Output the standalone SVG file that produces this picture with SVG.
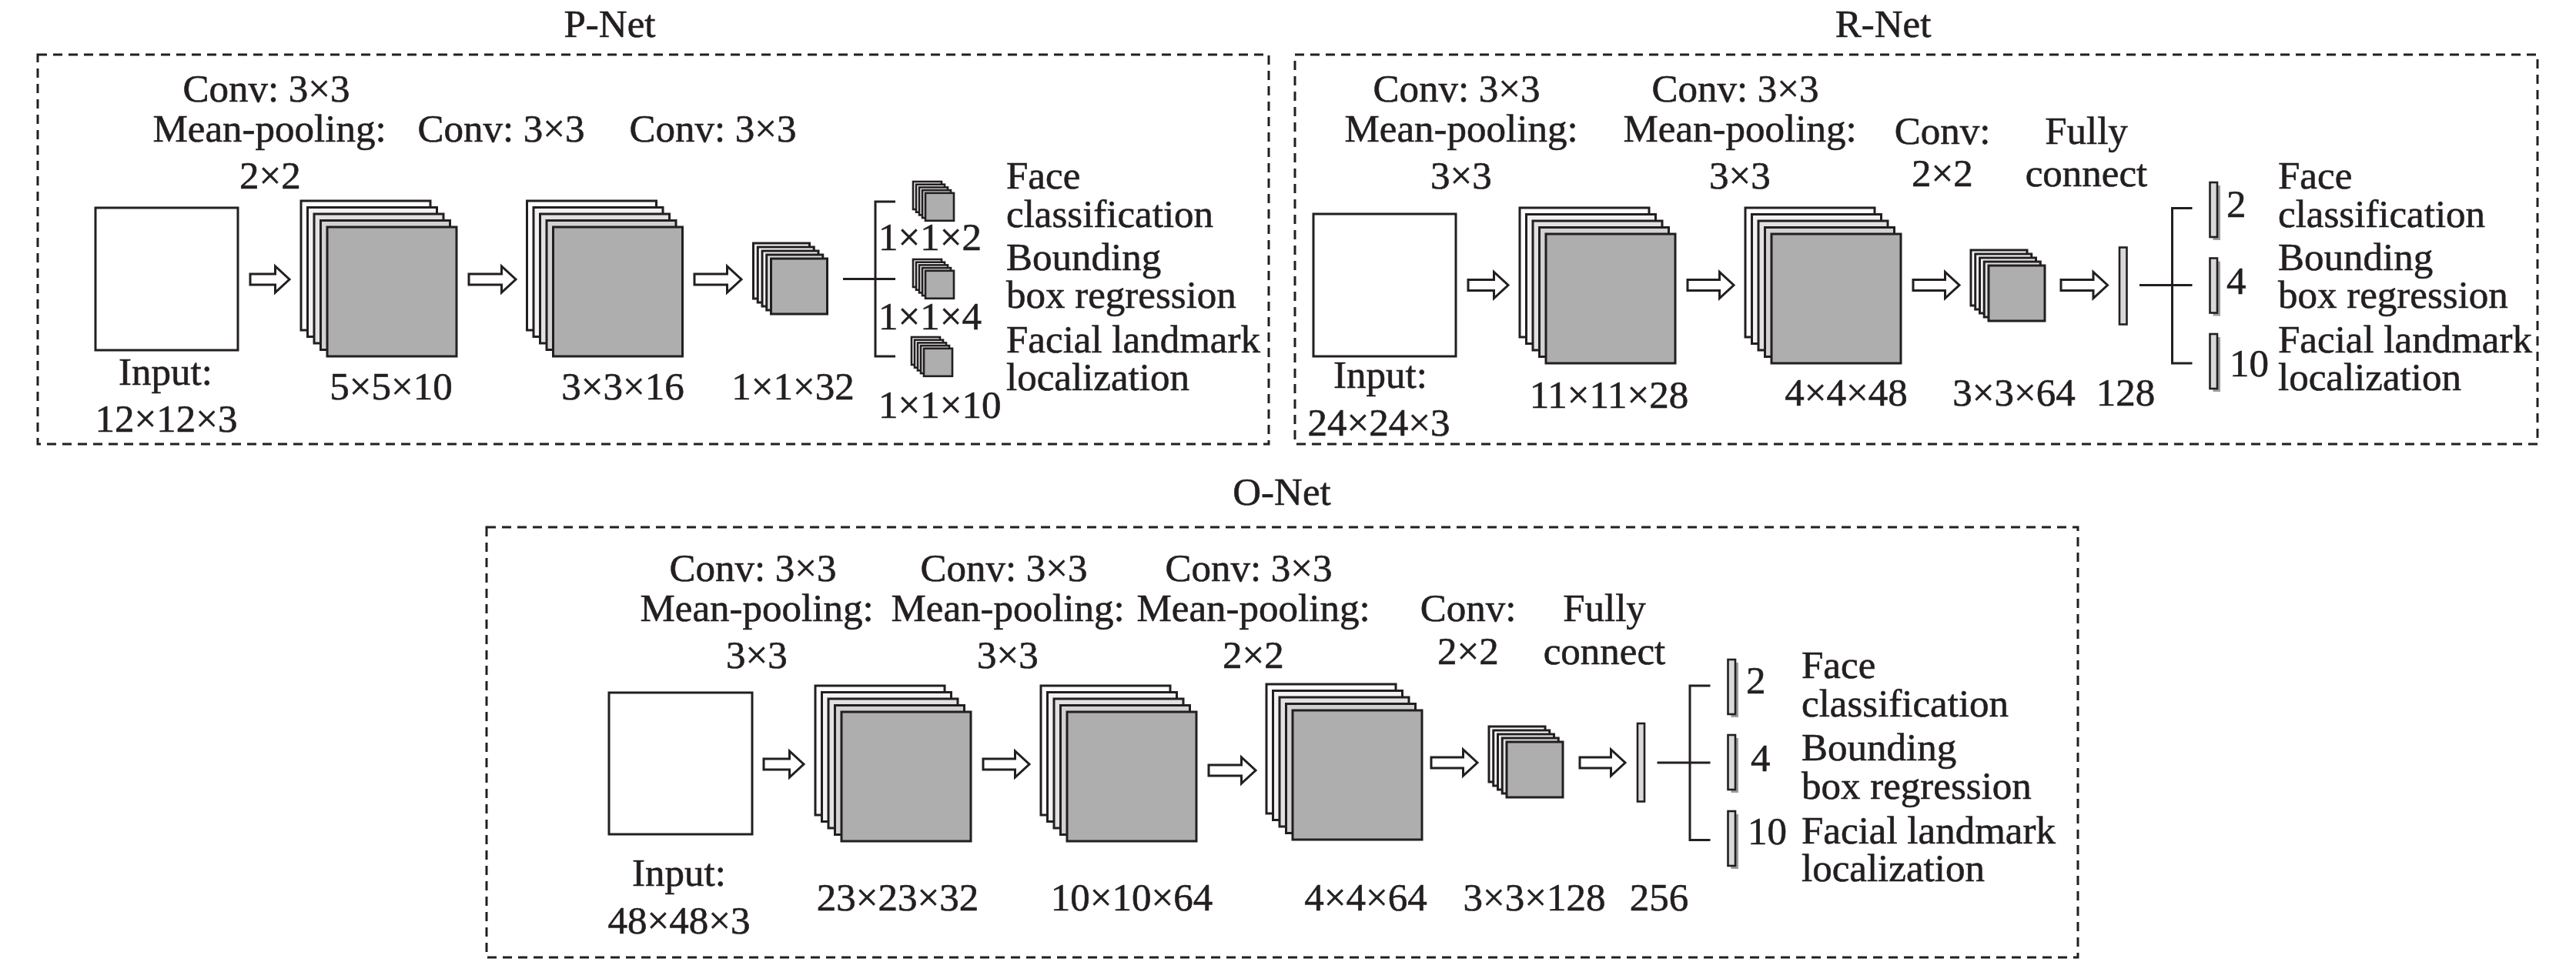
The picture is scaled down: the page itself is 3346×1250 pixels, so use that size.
<svg xmlns="http://www.w3.org/2000/svg" xmlns:xlink="http://www.w3.org/1999/xlink" width="3346" height="1250" viewBox="0 0 3346 1250">
<style>
.t{font-family:"Liberation Serif","Times New Roman",serif;font-size:51px;fill:#231f20;stroke:#231f20;stroke-width:0.6}
.m{text-anchor:middle}
.frame{fill:none;stroke:#231f20;stroke-width:3;stroke-dasharray:12 8}
.box{fill:#fff;stroke:#231f20;stroke-width:3}
.l1{fill:#ffffff;stroke:#231f20;stroke-width:3}
.l2{fill:#f2f2f2;stroke:#231f20;stroke-width:3}
.l3{fill:#e2e2e2;stroke:#231f20;stroke-width:3}
.l4{fill:#d2d2d2;stroke:#231f20;stroke-width:3}
.l5{fill:#aeaeae;stroke:#231f20;stroke-width:3}
.tn{stroke-width:2.6}
.arr{fill:#fff;stroke:#231f20;stroke-width:3;stroke-linejoin:miter}
.ln{fill:none;stroke:#231f20;stroke-width:3}
.fc{fill:#d9d9d9;stroke:#231f20;stroke-width:2.6}
.sh{fill:#9d9d9d}
</style>
<defs>
<g id="bigStack">
<rect class="l1" x="0" y="0" width="168" height="168"/>
<rect class="l2" x="8.5" y="8.5" width="168" height="168"/>
<rect class="l3" x="17" y="17" width="168" height="168"/>
<rect class="l4" x="25.5" y="25.5" width="168" height="168"/>
<rect class="l5" x="34" y="34" width="168" height="168"/>
</g>
<g id="smallStack">
<rect class="l1" x="0" y="0" width="73" height="72"/>
<rect class="l1" x="5.75" y="5" width="73" height="72"/>
<rect class="l2" x="11.5" y="10" width="73" height="72"/>
<rect class="l3" x="17.25" y="15" width="73" height="72"/>
<rect class="l5" x="23" y="20" width="73" height="72"/>
</g>
<g id="tinyStack">
<rect class="l1 tn" x="0" y="0" width="37" height="36"/>
<rect class="l1 tn" x="4" y="3.7" width="37" height="36"/>
<rect class="l2 tn" x="8" y="7.4" width="37" height="36"/>
<rect class="l3 tn" x="12" y="11.1" width="37" height="36"/>
<rect class="l5 tn" x="16" y="14.8" width="37" height="36"/>
</g>
<g id="outBar">
<rect class="sh" x="4" y="4" width="9.5" height="71"/>
<rect class="fc" x="0" y="0" width="9.5" height="71"/>
</g>
</defs>

<g id="frames">
<rect class="frame" x="49" y="71" width="1599" height="506"/>
<rect class="frame" x="1682" y="71" width="1614" height="506"/>
<rect class="frame" x="632" y="685" width="2067" height="559"/>
</g>

<g id="titles">
<text class="t m" x="792" y="48">P-Net</text>
<text class="t m" x="2446" y="48">R-Net</text>
<text class="t m" x="1665" y="656">O-Net</text>
</g>

<!-- P-Net -->
<g id="p-input">
<rect class="box" x="124" y="270" width="185" height="185"/>
<text class="t m" x="215" y="500">Input:</text>
<text class="t m" x="216" y="561">12×12×3</text>
</g>
<g id="p-op1">
<text class="t m" x="346" y="132">Conv: 3×3</text>
<text class="t m" x="350" y="184">Mean-pooling:</text>
<text class="t m" x="351" y="245">2×2</text>
</g>
<g id="p-fm1">
<use xlink:href="#bigStack" href="#bigStack" x="391" y="261"/>
<text class="t m" x="508" y="519">5×5×10</text>
</g>
<g id="p-op2"><text class="t m" x="651" y="184">Conv: 3×3</text></g>
<g id="p-fm2">
<use xlink:href="#bigStack" href="#bigStack" x="684.5" y="261"/>
<text class="t m" x="809" y="519">3×3×16</text>
</g>
<g id="p-op3"><text class="t m" x="926" y="184">Conv: 3×3</text></g>
<g id="p-fm3">
<use xlink:href="#smallStack" href="#smallStack" x="978.5" y="316"/>
<text class="t m" x="1030" y="519">1×1×32</text>
</g>
<g id="p-out1">
<use xlink:href="#tinyStack" href="#tinyStack" x="1186" y="236"/>
<text class="t" x="1141" y="325">1×1×2</text>
<text class="t" x="1307" y="245">Face</text>
<text class="t" x="1307" y="295">classification</text>
</g>
<g id="p-out2">
<use xlink:href="#tinyStack" href="#tinyStack" x="1186" y="337"/>
<text class="t" x="1141" y="428">1×1×4</text>
<text class="t" x="1307" y="351">Bounding</text>
<text class="t" x="1307" y="400">box regression</text>
</g>
<g id="p-out3">
<use xlink:href="#tinyStack" href="#tinyStack" x="1184" y="438"/>
<text class="t" x="1141" y="543">1×1×10</text>
<text class="t" x="1307" y="458">Facial landmark</text>
<text class="t" x="1307" y="507">localization</text>
</g>

<!-- R-Net -->
<g id="r-input">
<rect class="box" x="1706" y="278" width="185" height="185"/>
<text class="t m" x="1793" y="504">Input:</text>
<text class="t m" x="1791" y="566">24×24×3</text>
</g>
<g id="r-op1">
<text class="t m" x="1892" y="132">Conv: 3×3</text>
<text class="t m" x="1898" y="184">Mean-pooling:</text>
<text class="t m" x="1898" y="245">3×3</text>
</g>
<g id="r-fm1">
<use xlink:href="#bigStack" href="#bigStack" x="1974" y="270"/>
<text class="t m" x="2090" y="530">11×11×28</text>
</g>
<g id="r-op2">
<text class="t m" x="2254" y="132">Conv: 3×3</text>
<text class="t m" x="2260" y="184">Mean-pooling:</text>
<text class="t m" x="2260" y="245">3×3</text>
</g>
<g id="r-fm2">
<use xlink:href="#bigStack" href="#bigStack" x="2267" y="270"/>
<text class="t m" x="2398" y="527">4×4×48</text>
</g>
<g id="r-op3">
<text class="t m" x="2523" y="187">Conv:</text>
<text class="t m" x="2523" y="242">2×2</text>
</g>
<g id="r-fm3">
<use xlink:href="#smallStack" href="#smallStack" x="2560" y="325"/>
<text class="t m" x="2616" y="527">3×3×64</text>
</g>
<g id="r-op4">
<text class="t m" x="2710" y="187">Fully</text>
<text class="t m" x="2710" y="242">connect</text>
</g>
<g id="r-fc">
<rect class="fc" x="2753" y="321.5" width="9.5" height="100"/>
<text class="t m" x="2761" y="527">128</text>
</g>
<g id="r-out1">
<use xlink:href="#outBar" href="#outBar" x="2870.5" y="237"/>
<text class="t" x="2892" y="282">2</text>
<text class="t" x="2959" y="245">Face</text>
<text class="t" x="2959" y="295">classification</text>
</g>
<g id="r-out2">
<use xlink:href="#outBar" href="#outBar" x="2870.5" y="335.5"/>
<text class="t" x="2892" y="382">4</text>
<text class="t" x="2959" y="351">Bounding</text>
<text class="t" x="2959" y="400">box regression</text>
</g>
<g id="r-out3">
<use xlink:href="#outBar" href="#outBar" x="2870.5" y="434"/>
<text class="t" x="2896" y="489">10</text>
<text class="t" x="2959" y="458">Facial landmark</text>
<text class="t" x="2959" y="507">localization</text>
</g>

<!-- O-Net -->
<g id="o-input">
<rect class="box" x="791" y="900" width="186" height="184"/>
<text class="t m" x="882" y="1151">Input:</text>
<text class="t m" x="882" y="1213">48×48×3</text>
</g>
<g id="o-op1">
<text class="t m" x="978" y="755">Conv: 3×3</text>
<text class="t m" x="983" y="807">Mean-pooling:</text>
<text class="t m" x="983" y="868">3×3</text>
</g>
<g id="o-fm1">
<use xlink:href="#bigStack" href="#bigStack" x="1059" y="891"/>
<text class="t m" x="1166" y="1183">23×23×32</text>
</g>
<g id="o-op2">
<text class="t m" x="1304" y="755">Conv: 3×3</text>
<text class="t m" x="1309" y="807">Mean-pooling:</text>
<text class="t m" x="1309" y="868">3×3</text>
</g>
<g id="o-fm2">
<use xlink:href="#bigStack" href="#bigStack" x="1352" y="891"/>
<text class="t m" x="1470" y="1183">10×10×64</text>
</g>
<g id="o-op3">
<text class="t m" x="1622" y="755">Conv: 3×3</text>
<text class="t m" x="1628" y="807">Mean-pooling:</text>
<text class="t m" x="1628" y="868">2×2</text>
</g>
<g id="o-fm3">
<use xlink:href="#bigStack" href="#bigStack" x="1645" y="889"/>
<text class="t m" x="1774" y="1183">4×4×64</text>
</g>
<g id="o-op4">
<text class="t m" x="1907" y="807">Conv:</text>
<text class="t m" x="1907" y="863">2×2</text>
</g>
<g id="o-fm4">
<use xlink:href="#smallStack" href="#smallStack" x="1934" y="944"/>
<text class="t m" x="1993" y="1183">3×3×128</text>
</g>
<g id="o-op5">
<text class="t m" x="2084" y="807">Fully</text>
<text class="t m" x="2084" y="863">connect</text>
</g>
<g id="o-fc">
<rect class="fc" x="2127" y="940" width="9" height="101.5"/>
<text class="t m" x="2155" y="1183">256</text>
</g>
<g id="o-out1">
<use xlink:href="#outBar" href="#outBar" x="2244.5" y="857"/>
<text class="t" x="2268" y="901">2</text>
<text class="t" x="2340" y="881">Face</text>
<text class="t" x="2340" y="931">classification</text>
</g>
<g id="o-out2">
<use xlink:href="#outBar" href="#outBar" x="2244.5" y="955"/>
<text class="t" x="2274" y="1002">4</text>
<text class="t" x="2340" y="988">Bounding</text>
<text class="t" x="2340" y="1038">box regression</text>
</g>
<g id="o-out3">
<use xlink:href="#outBar" href="#outBar" x="2244.5" y="1054"/>
<text class="t" x="2270" y="1097">10</text>
<text class="t" x="2340" y="1096">Facial landmark</text>
<text class="t" x="2340" y="1145">localization</text>
</g>

<g id="connectors">
<!-- P-Net arrows -->
<path class="arr" d="M325,356 H357.5 V346 L376,363 L357.5,380 V370 H325 Z"/>
<path class="arr" d="M609,356 H651.5 V346 L670,363 L651.5,380 V370 H609 Z"/>
<path class="arr" d="M902,356 H944.5 V346 L963,363 L944.5,380 V370 H902 Z"/>
<path class="ln" d="M1095,362.5 H1163 M1163,262 H1137 V463 H1163"/>
<!-- R-Net arrows -->
<path class="arr" d="M1907,363.5 H1940.5 V353.5 L1959,370.5 L1940.5,387.5 V377.5 H1907 Z"/>
<path class="arr" d="M2192,363.5 H2233.5 V353.5 L2252,370.5 L2233.5,387.5 V377.5 H2192 Z"/>
<path class="arr" d="M2485,363.5 H2526.5 V353.5 L2545,370.5 L2526.5,387.5 V377.5 H2485 Z"/>
<path class="arr" d="M2677,363.5 H2719 V353.5 L2737.5,370.5 L2719,387.5 V377.5 H2677 Z"/>
<path class="ln" d="M2779,370.5 H2847.5 M2847.5,270.5 H2821.5 V472 H2847.5"/>
<!-- O-Net arrows -->
<path class="arr" d="M992,986 H1025.5 V976 L1044,993 L1025.5,1010 V1000 H992 Z"/>
<path class="arr" d="M1277,986 H1318.5 V976 L1337,993 L1318.5,1010 V1000 H1277 Z"/>
<path class="arr" d="M1570,994 H1612.5 V984 L1631,1001 L1612.5,1018 V1008 H1570 Z"/>
<path class="arr" d="M1859,984 H1900.5 V974 L1919,991 L1900.5,1008 V998 H1859 Z"/>
<path class="arr" d="M2052,984 H2092.5 V974 L2111,991 L2092.5,1008 V998 H2052 Z"/>
<path class="ln" d="M2152.5,991 H2221.5 M2221.5,891 H2195 V1091.5 H2221.5"/>
</g>
</svg>
